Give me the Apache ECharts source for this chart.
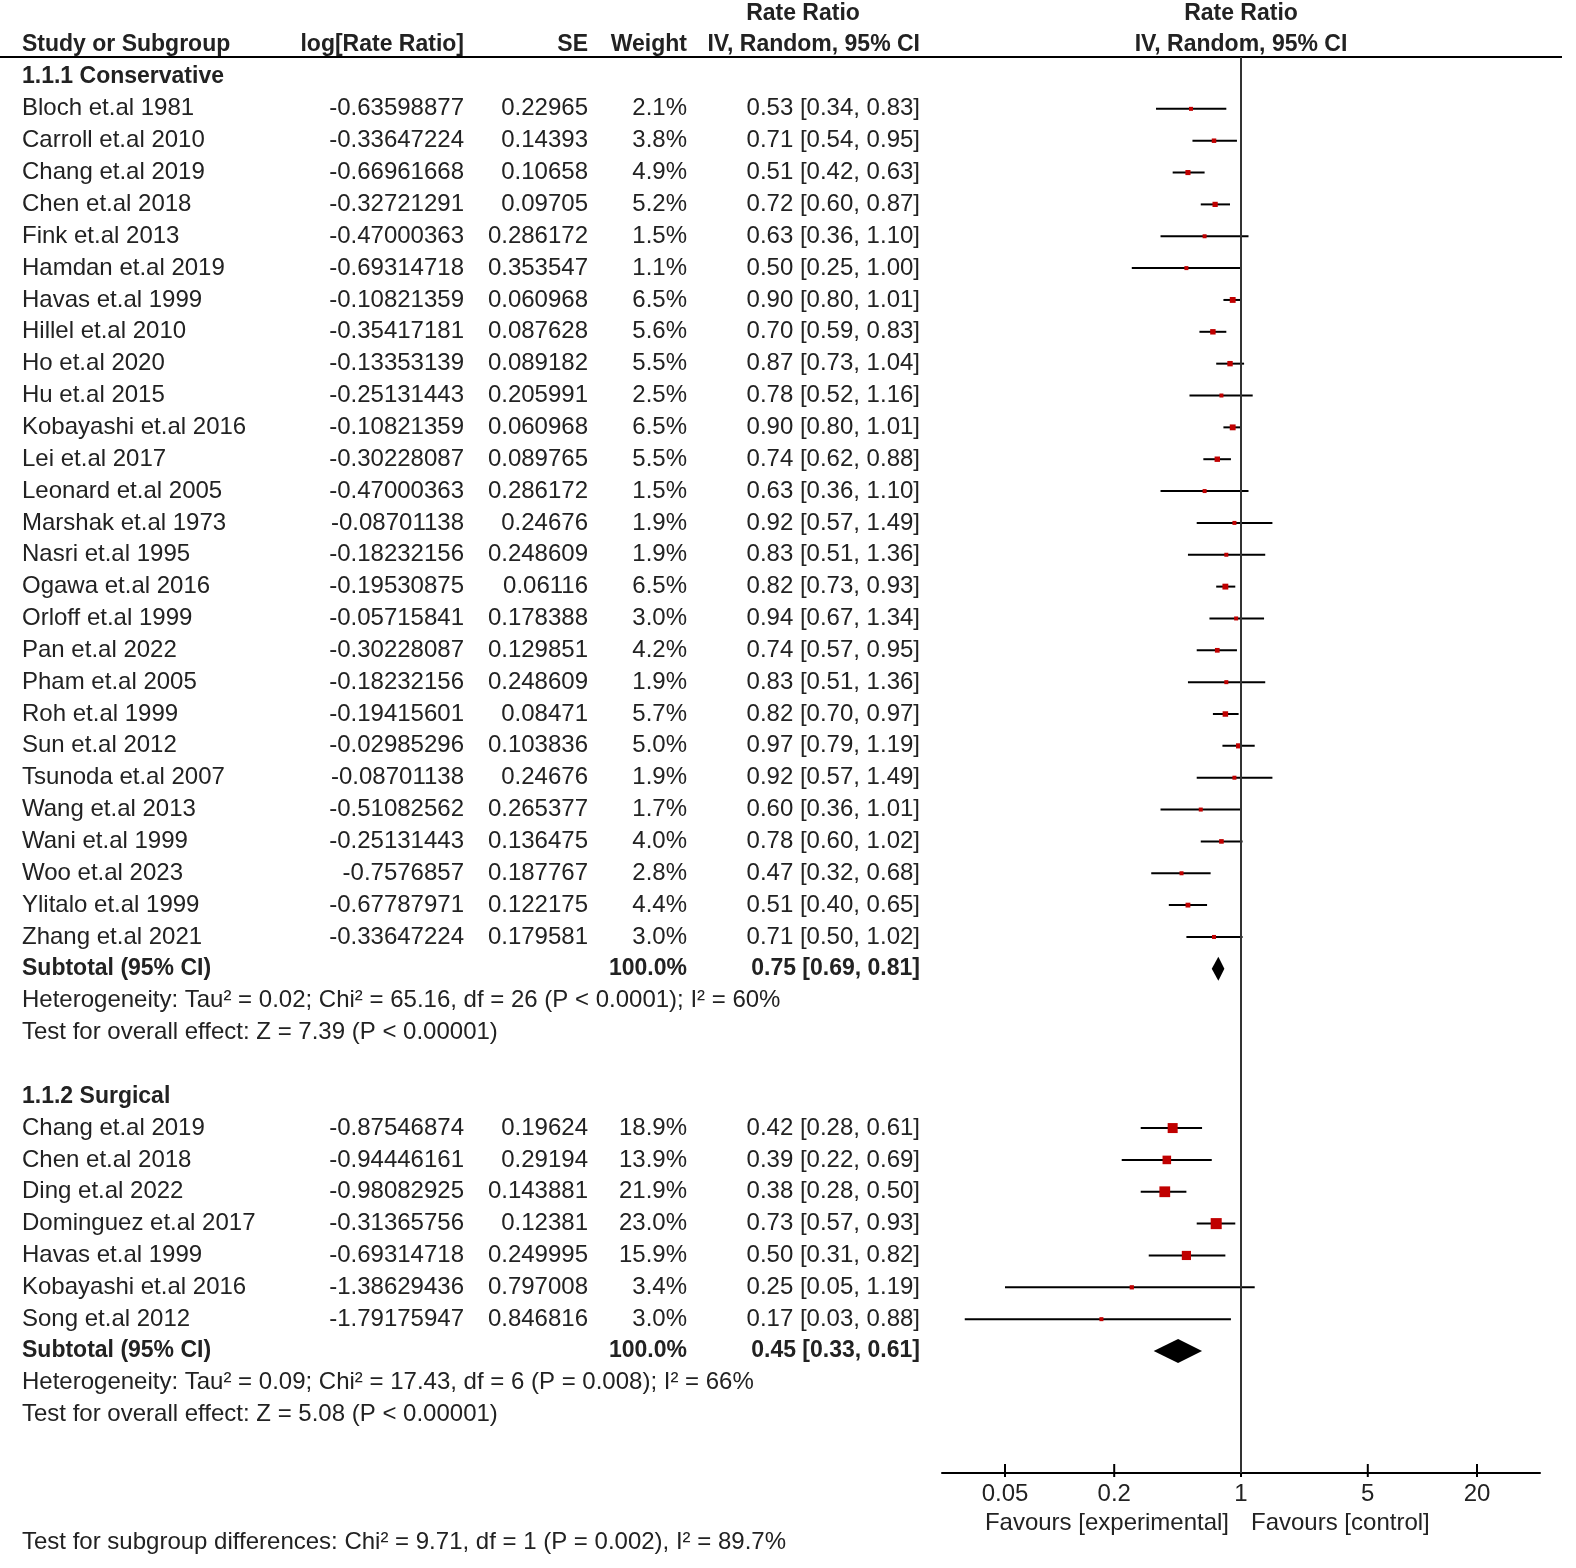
<!DOCTYPE html>
<html lang="en">
<head>
<meta charset="utf-8">
<title>Forest plot</title>
<script src="https://cdn.jsdelivr.net/npm/echarts@6.0.0/dist/echarts.min.js"></script>
<style>
  html, body { margin: 0; padding: 0; background: #fff; overflow: hidden; }
  #chart { width: 1576px; height: 1568px; }
</style>
</head>
<body>
<div id="chart"></div>
<script type="text/javascript">
// subgroup 1.1.1 Conservative
let names1 = ['Bloch et.al 1981', 'Carroll et.al 2010', 'Chang et.al 2019', 'Chen et.al 2018', 'Fink et.al 2013',
  'Hamdan et.al 2019', 'Havas et.al 1999', 'Hillel et.al 2010', 'Ho et.al 2020', 'Hu et.al 2015',
  'Kobayashi et.al 2016', 'Lei et.al 2017', 'Leonard et.al 2005', 'Marshak et.al 1973', 'Nasri et.al 1995',
  'Ogawa et.al 2016', 'Orloff et.al 1999', 'Pan et.al 2022', 'Pham et.al 2005', 'Roh et.al 1999',
  'Sun et.al 2012', 'Tsunoda et.al 2007', 'Wang et.al 2013', 'Wani et.al 1999', 'Woo et.al 2023',
  'Ylitalo et.al 1999', 'Zhang et.al 2021'];
let logRR1 = [-0.63598877, -0.33647224, -0.66961668, -0.32721291, -0.47000363, -0.69314718, -0.10821359,
  -0.35417181, -0.13353139, -0.25131443, -0.10821359, -0.30228087, -0.47000363, -0.08701138, -0.18232156,
  -0.19530875, -0.05715841, -0.30228087, -0.18232156, -0.19415601, -0.02985296, -0.08701138, -0.51082562,
  -0.25131443, -0.7576857, -0.67787971, -0.33647224];
let se1 = [0.22965, 0.14393, 0.10658, 0.09705, 0.286172, 0.353547, 0.060968, 0.087628, 0.089182, 0.205991,
  0.060968, 0.089765, 0.286172, 0.24676, 0.248609, 0.06116, 0.178388, 0.129851, 0.248609, 0.08471,
  0.103836, 0.24676, 0.265377, 0.136475, 0.187767, 0.122175, 0.179581];
let weight1 = [2.1, 3.8, 4.9, 5.2, 1.5, 1.1, 6.5, 5.6, 5.5, 2.5, 6.5, 5.5, 1.5, 1.9, 1.9, 6.5, 3.0, 4.2, 1.9,
  5.7, 5.0, 1.9, 1.7, 4.0, 2.8, 4.4, 3.0];
let rr1 = [0.53, 0.71, 0.51, 0.72, 0.63, 0.50, 0.90, 0.70, 0.87, 0.78, 0.90, 0.74, 0.63, 0.92, 0.83, 0.82,
  0.94, 0.74, 0.83, 0.82, 0.97, 0.92, 0.60, 0.78, 0.47, 0.51, 0.71];
let lo1 = [0.34, 0.54, 0.42, 0.60, 0.36, 0.25, 0.80, 0.59, 0.73, 0.52, 0.80, 0.62, 0.36, 0.57, 0.51, 0.73,
  0.67, 0.57, 0.51, 0.70, 0.79, 0.57, 0.36, 0.60, 0.32, 0.40, 0.50];
let hi1 = [0.83, 0.95, 0.63, 0.87, 1.10, 1.00, 1.01, 0.83, 1.04, 1.16, 1.01, 0.88, 1.10, 1.49, 1.36, 0.93,
  1.34, 0.95, 1.36, 0.97, 1.19, 1.49, 1.01, 1.02, 0.68, 0.65, 1.02];
let total1 = [0.75, 0.69, 0.81];
let het1 = 'Heterogeneity: Tau\u00b2 = 0.02; Chi\u00b2 = 65.16, df = 26 (P < 0.0001); I\u00b2 = 60%';
let effect1 = 'Test for overall effect: Z = 7.39 (P < 0.00001)';

// subgroup 1.1.2 Surgical
let names2 = ['Chang et.al 2019', 'Chen et.al 2018', 'Ding et.al 2022', 'Dominguez et.al 2017',
  'Havas et.al 1999', 'Kobayashi et.al 2016', 'Song et.al 2012'];
let logRR2 = [-0.87546874, -0.94446161, -0.98082925, -0.31365756, -0.69314718, -1.38629436, -1.79175947];
let se2 = [0.19624, 0.29194, 0.143881, 0.12381, 0.249995, 0.797008, 0.846816];
let weight2 = [18.9, 13.9, 21.9, 23.0, 15.9, 3.4, 3.0];
let rr2 = [0.42, 0.39, 0.38, 0.73, 0.50, 0.25, 0.17];
let lo2 = [0.28, 0.22, 0.28, 0.57, 0.31, 0.05, 0.03];
let hi2 = [0.61, 0.69, 0.50, 0.93, 0.82, 1.19, 0.88];
let total2 = [0.45, 0.33, 0.61];
let het2 = 'Heterogeneity: Tau\u00b2 = 0.09; Chi\u00b2 = 17.43, df = 6 (P = 0.008); I\u00b2 = 66%';
let effect2 = 'Test for overall effect: Z = 5.08 (P < 0.00001)';

let subgroupTest = 'Test for subgroup differences: Chi\u00b2 = 9.71, df = 1 (P = 0.002), I\u00b2 = 89.7%';

let tickValues = [0.05, 0.2, 1, 5, 20];
let tickLabels = ['0.05', '0.2', '1', '5', '20'];

// layout
const FONT = '"Liberation Sans", Arial, sans-serif';
const REG = '24px ' + FONT;
const BOLD = 'bold 23px ' + FONT;
const INK = '#222';
const colName = 22, colLog = 464, colSe = 588, colW = 687, colCi = 920, colRight = 1241;
const yMin = -0.628, yMax = 43.83;

function ciText(v) {
  return v[0].toFixed(2) + ' [' + v[1].toFixed(2) + ', ' + v[2].toFixed(2) + ']';
}

// build table rows (row index on the y axis)
let tableRows = [];
let studyMarks = [];
let diamonds = [];

tableRows.push({ row: -2, bold: true, cells: [['Rate Ratio', 803, 'center'], ['Rate Ratio', colRight, 'center']] });
tableRows.push({ row: -1, bold: true, cells: [['Study or Subgroup', colName, 'left'], ['log[Rate Ratio]', colLog, 'right'],
  ['SE', colSe, 'right'], ['Weight', colW, 'right'], ['IV, Random, 95% CI', colCi, 'right'],
  ['IV, Random, 95% CI', colRight, 'center']] });

function addGroup(startRow, title, names, logRR, se, weight, rr, lo, hi, total, het, effect) {
  let r = startRow;
  tableRows.push({ row: r, bold: true, cells: [[title, colName, 'left']] });
  r++;
  names.forEach((n, i) => {
    tableRows.push({ row: r, bold: false, cells: [[n, colName, 'left'], [String(logRR[i]), colLog, 'right'],
      [String(se[i]), colSe, 'right'], [weight[i].toFixed(1) + '%', colW, 'right'],
      [ciText([rr[i], lo[i], hi[i]]), colCi, 'right']] });
    studyMarks.push([rr[i], lo[i], hi[i], r, weight[i]]);
    r++;
  });
  tableRows.push({ row: r, bold: true, cells: [['Subtotal (95% CI)', colName, 'left'], ['100.0%', colW, 'right'],
    [ciText(total), colCi, 'right']] });
  diamonds.push([total[0], total[1], total[2], r]);
  r++;
  tableRows.push({ row: r, bold: false, cells: [[het, colName, 'left']] });
  r++;
  tableRows.push({ row: r, bold: false, cells: [[effect, colName, 'left']] });
  return r + 1;
}

let next = addGroup(0, '1.1.1 Conservative', names1, logRR1, se1, weight1, rr1, lo1, hi1, total1, het1, effect1);
addGroup(next + 1, '1.1.2 Surgical', names2, logRR2, se2, weight2, rr2, lo2, hi2, total2, het2, effect2);
tableRows.push({ row: 46, bold: false, cells: [[subgroupTest, colName, 'left']] });

let chart = echarts.init(document.getElementById('chart'));

let option = {
  animation: false,
  backgroundColor: '#fff',
  grid: { left: 942, right: 36, top: 57, bottom: 95 },
  xAxis: {
    type: 'log',
    min: 1 / 44.5,
    max: 44.5,
    axisLine: { show: true, onZero: false, lineStyle: { color: '#000', width: 2 } },
    axisTick: { show: false },
    axisLabel: { show: false },
    splitLine: { show: false }
  },
  yAxis: {
    type: 'value',
    inverse: true,
    min: yMin,
    max: yMax,
    show: false
  },
  graphic: [{
    type: 'line',
    shape: { x1: 0, y1: 57, x2: 1562, y2: 57 },
    style: { stroke: '#000', lineWidth: 2 }
  }],
  series: [
    {
      name: 'table',
      type: 'custom',
      clip: false,
      silent: true,
      data: tableRows.map((t, i) => [1, t.row, i]),
      renderItem: function (params, api) {
        let t = tableRows[api.value(2)];
        let y = api.coord([1, api.value(1)])[1];
        return {
          type: 'group',
          children: t.cells.map((c) => ({
            type: 'text',
            x: c[1],
            y: y,
            style: { text: c[0], font: t.bold ? BOLD : REG, fill: INK, align: c[2], verticalAlign: 'middle' }
          }))
        };
      }
    },
    {
      name: 'studies',
      type: 'custom',
      clip: false,
      silent: true,
      data: studyMarks,
      encode: { x: 0, y: 3 },
      renderItem: function (params, api) {
        let c = api.coord([api.value(0), api.value(3)]);
        let l = api.coord([api.value(1), api.value(3)]);
        let h = api.coord([api.value(2), api.value(3)]);
        let s = Math.max(4, 2.3 * Math.sqrt(api.value(4)));
        return {
          type: 'group',
          children: [
            { type: 'line', shape: { x1: l[0], y1: c[1], x2: h[0], y2: c[1] }, style: { stroke: '#000', lineWidth: 2 } },
            { type: 'rect', shape: { x: c[0] - s / 2, y: c[1] - s / 2, width: s, height: s }, style: { fill: '#c00000' } }
          ]
        };
      },
      markLine: {
        silent: true,
        symbol: 'none',
        label: { show: false },
        lineStyle: { color: '#333', width: 2, type: 'solid' },
        data: [{ xAxis: 1 }]
      }
    },
    {
      name: 'subtotals',
      type: 'custom',
      clip: false,
      silent: true,
      data: diamonds,
      encode: { x: 0, y: 3 },
      renderItem: function (params, api) {
        let c = api.coord([api.value(0), api.value(3)]);
        let l = api.coord([api.value(1), api.value(3)]);
        let h = api.coord([api.value(2), api.value(3)]);
        let hh = 12;
        return {
          type: 'polygon',
          shape: { points: [[l[0], c[1]], [c[0], c[1] - hh], [h[0], c[1]], [c[0], c[1] + hh]] },
          style: { fill: '#000' }
        };
      }
    },
    {
      name: 'ticks',
      type: 'custom',
      clip: false,
      silent: true,
      data: tickValues.map((v, i) => [v, yMax, i]),
      renderItem: function (params, api) {
        let p = api.coord([api.value(0), api.value(1)]);
        let i = api.value(2);
        let kids = [
          { type: 'line', shape: { x1: p[0], y1: p[1] - 9, x2: p[0], y2: p[1] + 4 }, style: { stroke: '#000', lineWidth: 2 } },
          { type: 'text', x: p[0], y: p[1] + 21,
            style: { text: tickLabels[i], font: REG, fill: INK, align: 'center', verticalAlign: 'middle' } }
        ];
        if (tickValues[i] === 1) {
          kids.push({ type: 'text', x: p[0] - 12, y: p[1] + 50,
            style: { text: 'Favours [experimental]', font: REG, fill: INK, align: 'right', verticalAlign: 'middle' } });
          kids.push({ type: 'text', x: p[0] + 10, y: p[1] + 50,
            style: { text: 'Favours [control]', font: REG, fill: INK, align: 'left', verticalAlign: 'middle' } });
        }
        return { type: 'group', children: kids };
      }
    }
  ]
};

chart.setOption(option);
</script>
</body>
</html>
